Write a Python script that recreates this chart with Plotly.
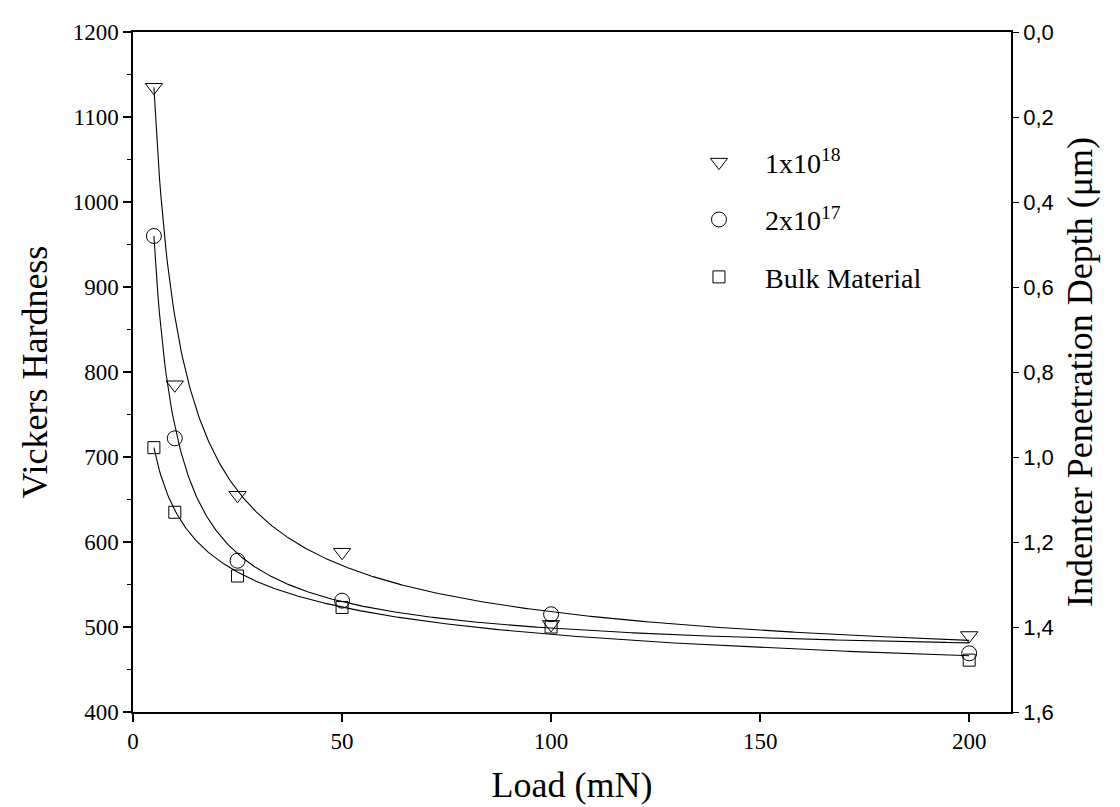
import numpy as np
import plotly.graph_objects as go

# ---- data ----
load = [5, 10, 25, 50, 100, 200]
hv_1e18 = [1135, 785, 655, 588, 503, 490]
hv_2e17 = [960, 722, 578, 531, 515, 469]
hv_bulk = [711, 635, 560, 523, 500, 461]

series_names = ["1x10<sup>18</sup>", "2x10<sup>17</sup>", "Bulk Material"]
series_values = [hv_1e18, hv_2e17, hv_bulk]
symbols = ["triangle-down-open", "circle-open", "square-open"]
marker_sizes = [15, 15, 12]

x_ticks = [0, 50, 100, 150, 200]
y_ticks = [400, 500, 600, 700, 800, 900, 1000, 1100, 1200]
depth_ticks = [0.0, 0.2, 0.4, 0.6, 0.8, 1.0, 1.2, 1.4, 1.6]

X_RANGE = [0, 210]
Y_RANGE = [400, 1200]
PLOT_W, PLOT_H = 878, 686  # plot-area size in px (used for fit weighting)


def power_fit(x, y):
    """Fit y = y0 + (y_first - y0) * (x / x_first)^-b, starting at the first
    point, minimising approximate perpendicular (on-screen) distances."""
    x = np.asarray(x, float)
    y = np.asarray(y, float)
    sx = PLOT_W / (X_RANGE[1] - X_RANGE[0])
    sy = PLOT_H / (Y_RANGE[1] - Y_RANGE[0])
    x0, yf = x[0], y[0]
    xr, yr = x[1:], y[1:]
    y0g = np.arange(0.0, yr.min() + 20, 1.0)
    bg = np.arange(0.05, 4.0, 0.005)
    Y0, B = np.meshgrid(y0g, bg, indexing="ij")
    Y0 = Y0[..., None]
    B = B[..., None]
    p = (xr / x0) ** (-B)
    f = Y0 + (yf - Y0) * p
    slope = -(yf - Y0) * B * p / xr
    dpx = (yr - f) * sy
    spx = slope * sy / sx
    cost = np.sum(dpx ** 2 / (1 + spx ** 2), axis=-1)
    i, j = np.unravel_index(np.argmin(cost), cost.shape)
    y0, b = y0g[i], bg[j]
    xs = np.linspace(x.min(), x.max(), 600)
    return xs, y0 + (yf - y0) * (xs / x0) ** (-b)


SERIF = "Liberation Serif, Times New Roman, serif"
SANS = "Liberation Sans, Arial, sans-serif"

fig = go.Figure()

for name, vals, sym, ms in zip(series_names, series_values, symbols, marker_sizes):
    xs, ys = power_fit(load, vals)
    fig.add_trace(go.Scatter(x=xs, y=ys, mode="lines",
                             line=dict(color="black", width=1.1),
                             showlegend=False, hoverinfo="skip"))
    fig.add_trace(go.Scatter(x=load, y=vals, mode="markers", name=name,
                             legendgroup=name,
                             marker=dict(symbol=sym, size=ms, color="black",
                                         line=dict(width=1, color="black"))))

# invisible trace to carry the right axis
fig.add_trace(go.Scatter(x=[None], y=[None], yaxis="y2", showlegend=False,
                         hoverinfo="skip"))

fig.update_layout(
    width=1120, height=807,
    margin=dict(l=125, r=117, t=18, b=103),
    paper_bgcolor="white", plot_bgcolor="white",
    separators=",.",
    showlegend=True,
    legend=dict(x=0.615, y=0.845, xanchor="left", yanchor="top",
                font=dict(family=SERIF, size=28, color="black"),
                bgcolor="rgba(0,0,0,0)", itemwidth=82,
                tracegroupgap=18),
    xaxis=dict(range=X_RANGE, tickvals=x_ticks, showgrid=False, zeroline=False,
               showline=True, linecolor="black", linewidth=1.5, mirror=True,
               ticks="outside", ticklen=8, tickwidth=2, tickcolor="black",
               tickfont=dict(family=SERIF, size=23, color="black"),
               title=dict(text="Load (mN)", standoff=18,
                          font=dict(family=SERIF, size=36, color="black"))),
    yaxis=dict(range=Y_RANGE, tickvals=y_ticks, showgrid=False, zeroline=False,
               showline=True, linecolor="black", linewidth=1.5,
               ticks="outside", ticklen=8, tickwidth=2, tickcolor="black",
               minor=dict(dtick=50, ticks="outside", ticklen=4, tickwidth=1,
                          tickcolor="black", showgrid=False),
               tickfont=dict(family=SERIF, size=23, color="black"),
               title=dict(text="Vickers Hardness", standoff=14,
                          font=dict(family=SERIF, size=36, color="black"))),
    yaxis2=dict(overlaying="y", side="right", range=[1.6, 0], tickvals=depth_ticks,
                tickformat=".1f", showgrid=False, zeroline=False,
                showline=True, linecolor="black", linewidth=1.5,
                ticks="outside", ticklen=6, tickwidth=1, tickcolor="black",
                tickfont=dict(family=SANS, size=22, color="black"),
                title=dict(text="Indenter Penetration Depth (μm)", standoff=14,
                           font=dict(family=SERIF, size=36, color="black"))),
)

fig.write_html("out.html")
